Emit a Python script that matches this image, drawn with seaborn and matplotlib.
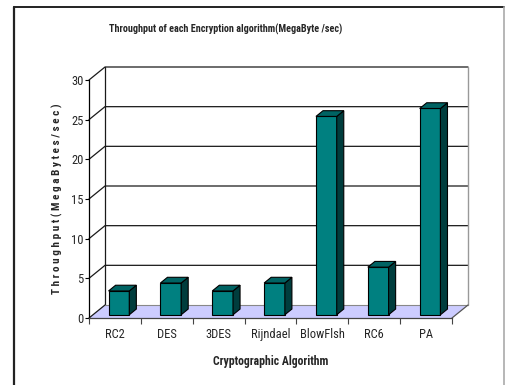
import matplotlib
matplotlib.use("Agg")
import matplotlib.pyplot as plt
from matplotlib.patches import Polygon, Rectangle
import seaborn as sns
import pandas as pd

# Throughput of each cipher, MB/s
algorithms = ["RC2", "DES", "3DES", "Rijndael", "BlowFlsh", "RC6", "PA"]
throughput = [3, 4, 3, 4, 25, 6, 26]
y_ticks = [0, 5, 10, 15, 20, 25, 30]

title = "Throughput of each Encryption algorithm(MegaByte /sec)"
x_label = "Cryptographic Algorithm"
y_label = "Throughput(MegaBytes/sec)"

sns.set_theme(style="white")
plt.rcParams["font.family"] = ["Roboto Condensed", "Liberation Sans", "DejaVu Sans"]

W, H = 507, 385
fig = plt.figure(figsize=(W / 100, H / 100), dpi=100)
fig.patch.set_facecolor("white")

# outer chart frame (bottom edge lies beyond the canvas)
fig.add_artist(plt.Line2D([14 / W, 14 / W], [0, 1 - 6.5 / H], color="#222222", lw=1.6,
                          transform=fig.transFigure))
fig.add_artist(plt.Line2D([14 / W, 504 / W], [1 - 6.5 / H, 1 - 6.5 / H], color="#222222", lw=1.4,
                          transform=fig.transFigure))
fig.add_artist(plt.Line2D([504 / W, 504 / W], [0, 1 - 6.5 / H], color="#aaaaaa", lw=1.2,
                          transform=fig.transFigure))

# front plane of the 3-D box
x0, x1, ybot, ytop = 89, 452, 318, 80
ax = fig.add_axes([x0 / W, 1 - ybot / H, (x1 - x0) / W, (ybot - ytop) / H])
ax.set_facecolor("none")

df = pd.DataFrame({"Algorithm": algorithms, "Throughput": throughput})
sns.barplot(data=df, x="Algorithm", y="Throughput", color="#008080", width=0.4,
            edgecolor="black", linewidth=0.8, saturation=1, ax=ax, zorder=5)

n = len(algorithms)
ax.set_xlim(-0.5, n - 0.5)
ax.set_ylim(0, 30)

# depth of the box in data units
px_x = n / (x1 - x0)
px_y = 30 / (ybot - ytop)
DX, DY = 16 * px_x, 13 * px_y
xl, xr = -0.5, n - 0.5

# back wall and floor
ax.add_patch(Polygon([(xl + DX, DY), (xr + DX, DY), (xr + DX, 30 + DY), (xl + DX, 30 + DY)],
                     closed=True, facecolor="white", edgecolor="none", clip_on=False, zorder=0))
ax.add_patch(Polygon([(xl, 0), (xr, 0), (xr + DX, DY), (xl + DX, DY)], closed=True,
                     facecolor="#ccccff", edgecolor="none", clip_on=False, zorder=1))
for v in y_ticks[1:]:
    ax.plot([xl, xl + DX, xr + DX], [v, v + DY, v + DY], color="#1a1a1a", lw=0.9,
            clip_on=False, zorder=2)
ax.plot([xl, xl + DX], [0, DY], color="#1a1a1a", lw=0.9, clip_on=False, zorder=2)
ax.plot([xl + DX, xl + DX], [DY, 30 + DY], color="#1a1a1a", lw=0.9, clip_on=False, zorder=2)
ax.plot([xl + DX, xr + DX], [DY, DY], color="#888888", lw=0.8, clip_on=False, zorder=2)
ax.plot([xr + DX, xr + DX], [DY, 30 + DY], color="#999999", lw=1.0, clip_on=False, zorder=2)
ax.plot([xr, xr + DX], [0, DY], color="#555555", lw=0.9, clip_on=False, zorder=2)

# give every bar its depth: front face pushed back a little, plus side and top faces
front, depth = 0.25, 0.44
for p in ax.patches:
    if not isinstance(p, Rectangle) or p.get_width() >= 1:
        continue
    bx, bw, bh = p.get_x(), p.get_width(), p.get_height()
    if bh <= 0:
        continue
    fx, fy = front * DX, front * DY
    p.set_x(bx + fx)
    p.set_y(fy)
    L, R = bx + fx, bx + fx + bw
    B, T = fy, fy + bh
    ddx, ddy = depth * DX, depth * DY
    ax.add_patch(Polygon([(R, B), (R + ddx, B + ddy), (R + ddx, T + ddy), (R, T)], closed=True,
                         facecolor="#003d3d", edgecolor="black", lw=0.8, clip_on=False, zorder=5))
    ax.add_patch(Polygon([(L, T), (R, T), (R + ddx, T + ddy), (L + ddx, T + ddy)], closed=True,
                         facecolor="#006363", edgecolor="black", lw=0.8, clip_on=False, zorder=5))

# axes, ticks and labels
for s in ["top", "right"]:
    ax.spines[s].set_visible(False)
ax.spines["left"].set_color("black")
ax.spines["left"].set_linewidth(0.9)
ax.spines["bottom"].set_color("#444444")
ax.spines["bottom"].set_linewidth(0.9)
ax.spines["left"].set_zorder(3)
ax.spines["bottom"].set_zorder(3)

ax.set_yticks(y_ticks)
ax.set_yticklabels([str(v) for v in y_ticks], fontsize=9)
ax.set_xticks(range(n))
ax.set_xticklabels(algorithms, fontsize=9)
ax.set_xticks([k - 0.5 for k in range(n + 1)], minor=True)
ax.tick_params(axis="x", which="major", length=0, pad=7.5)
ax.tick_params(axis="x", which="minor", length=4, width=0.8, color="#444444", direction="out",
               bottom=True)
ax.tick_params(axis="y", which="major", length=3, width=0.8, color="black", direction="out",
               left=True, pad=1)

ax.set_xlabel(x_label, fontsize=8.5, fontweight="bold", labelpad=9.5)
ax.set_ylabel(" ".join(y_label), fontsize=8, fontweight="bold", labelpad=6)

fig.text(226 / W, 1 - 29 / H, title, ha="center", va="center", fontsize=7.3,
         fontweight="bold")

fig.savefig("out.png", dpi=100)
